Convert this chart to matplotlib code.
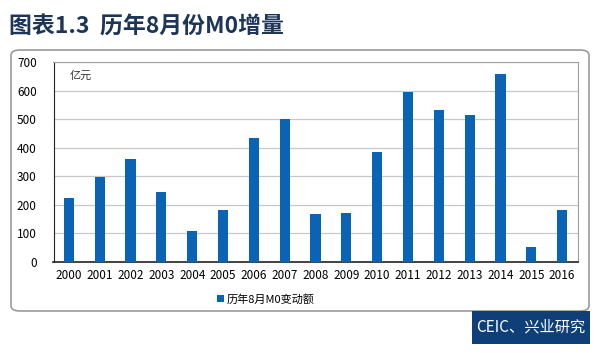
import matplotlib
matplotlib.use("Agg")
import matplotlib.pyplot as plt
from matplotlib.patches import FancyBboxPatch, Rectangle

plt.rcParams['font.family'] = ['Noto Sans CJK SC', 'DejaVu Sans']

years = [str(y) for y in range(2000, 2017)]
values = [223, 298, 359, 246, 110, 182, 435, 500, 167, 170, 384, 596, 532, 516, 657, 54, 182]
series_name = "历年8月M0变动额"
yticks = [0, 100, 200, 300, 400, 500, 600, 700]

W, H = 600, 353
fig = plt.figure(figsize=(W / 100, H / 100), dpi=100)

def fx(px):
    return px / W

def fy(py):
    return 1 - py / H

# Rounded frame
frame = FancyBboxPatch((fx(11), fy(311)), fx(589) - fx(11), fy(50) - fy(311),
                       boxstyle="round,pad=0,rounding_size=0.015",
                       transform=fig.transFigure, fill=False, edgecolor="#9a9a9a", linewidth=1.2)
fig.patches.append(frame)

# Title
fig.text(fx(9), fy(27), "图表1.3  历年8月份M0增量", fontsize=16.5, fontweight='bold',
         color="#1d3557", va='center', ha='left')

# Footer box
fig.patches.append(Rectangle((fx(472), fy(344)), fx(590) - fx(472), fy(311) - fy(344),
                             transform=fig.transFigure, facecolor="#0e3f78", edgecolor='none'))
fig.text(fx(531), fy(327), "CEIC、兴业研究", fontsize=11, color="white", va='center', ha='center')

ax = fig.add_axes([fx(53.5), fy(262), fx(577.5) - fx(53.5), fy(62) - fy(262)])
x = list(range(len(years)))
ax.bar(x, values, width=0.33, color="#0b63b5", zorder=3, label=series_name)
ax.set_xlim(-0.5, len(years) - 0.5)
ax.set_ylim(0, 700)
ax.set_yticks(yticks)
ax.set_xticks(x)
ax.set_xticklabels(years, fontsize=8.5)
ax.tick_params(axis='y', labelsize=8.5, length=0, pad=12)
ax.tick_params(axis='x', length=0, pad=5)
ax.grid(axis='y', color="#c8c8c8", linewidth=0.9, zorder=0)
for s in ['top', 'right']:
    ax.spines[s].set_color("#a0a0a0")
ax.spines['left'].set_color("#222222")
ax.spines['bottom'].set_color("#222222")
ax.spines['bottom'].set_linewidth(1.2)
ax.text(0.03, 0.93, "亿元", transform=ax.transAxes, fontsize=8, color="#333333", va='center')

fig.legend(loc='center', bbox_to_anchor=(fx(266), fy(299)), frameon=False, fontsize=8,
           handlelength=0.6, handleheight=0.6, handletextpad=0.3)

fig.savefig("out.png", dpi=100)
